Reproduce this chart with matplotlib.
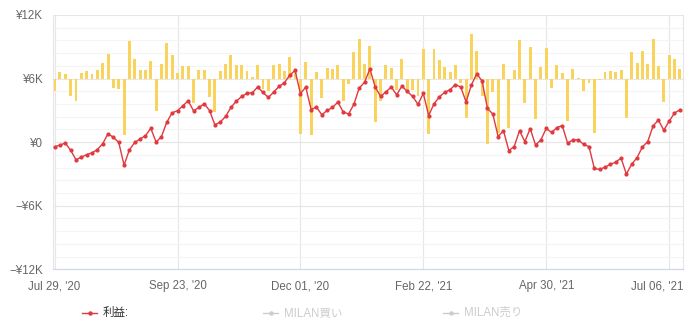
import matplotlib
matplotlib.use('Agg')
import matplotlib.pyplot as plt
from matplotlib.lines import Line2D
from matplotlib.ticker import FuncFormatter, MultipleLocator
from matplotlib.transforms import ScaledTranslation
import numpy as np

plt.rcParams['font.family'] = ['Liberation Sans', 'Noto Sans CJK JP', 'DejaVu Sans']

# cumulative profit (thousand yen), one value per trade point
profit = [
    -0.44, -0.28, -0.08, -0.77, -1.66, -1.42, -1.18, -1.01, -0.70, -0.15,
    0.80, 0.45, -0.02, -2.17, -0.72, -0.03, 0.30, 0.61, 1.30, 0.00,
    0.53, 1.89, 2.77, 2.97, 3.43, 3.90, 2.95, 3.27, 3.63, 2.98,
    1.62, 1.90, 2.42, 3.28, 3.86, 4.31, 4.60, 4.66, 5.20, 4.69,
    4.22, 4.72, 5.26, 5.60, 6.32, 6.77, 4.57, 5.20, 3.08, 3.31,
    2.58, 2.99, 3.27, 3.78, 2.86, 2.65, 3.56, 5.10, 5.65, 6.91,
    5.20, 4.31, 4.75, 5.20, 4.47, 5.29, 4.78, 4.31, 3.57, 4.60,
    2.51, 3.62, 4.27, 4.70, 4.95, 5.43, 5.20, 3.80, 5.40, 6.46,
    5.76, 3.18, 2.66, 0.53, 1.08, -0.79, -0.42, 1.08, 0.05, 1.28,
    -0.28, 0.22, 1.29, 0.91, 1.38, 1.56, -0.09, 0.22, 0.22, -0.22,
    -0.42, -2.48, -2.58, -2.36, -2.10, -1.88, -1.51, -3.01, -2.07, -1.46,
    -0.45, 0.06, 1.54, 2.07, 1.13, 1.98, 2.74, 3.05,
]

# per-point change bars, drawn around the 6K line
change = [
    -1.17, 0.62, 0.47, -1.64, -2.12, 0.57, 0.72, 0.41, 0.81, 1.45,
    2.36, -0.85, -1.01, -5.36, 3.55, 1.89, 0.81, 0.81, 1.66, -3.06,
    1.35, 3.40, 2.20, 0.57, 1.22, 1.22, -2.33, 0.81, 0.81, -1.70,
    -3.18, 0.72, 1.40, 2.20, 1.30, 1.30, 0.75, 0.17, 1.32, -0.95,
    -1.17, 1.32, 1.40, 0.75, 2.05, 0.90, -5.20, 1.60, -5.28, 0.60,
    -1.80, 0.98, 0.90, 1.26, -2.15, -0.50, 2.46, 3.78, 1.42, 3.08,
    -4.13, -2.10, 1.26, 1.04, -1.10, 1.89, -1.10, -1.12, -1.60, 2.77,
    -5.20, 2.77, 1.78, 1.13, 0.66, 1.27, -0.38, -3.69, 4.19, 2.61,
    -1.64, -6.20, -1.26, -5.10, 1.35, -4.63, 0.85, 3.68, -2.27, 3.02,
    -3.78, 1.13, 2.84, -0.85, 1.26, 0.50, -4.00, 0.88, 0.09, -1.17,
    -0.44, -5.17, -0.10, 0.62, 0.72, 0.66, 0.81, -3.69, 2.46, 1.51,
    2.61, 1.35, 3.78, 1.19, -2.21, 2.20, 1.89, 0.88,
]

tick_pos = [0, 23, 46, 69, 92, 115]
tick_labels = ["Jul 29, '20", "Sep 23, '20", "Dec 01, '20", "Feb 22, '21", "Apr 30, '21", "Jul 06, '21"]

BAR_BASE = 6
x = np.arange(len(profit))

fig = plt.figure(figsize=(6.91, 3.33), dpi=100)
ax = fig.add_axes([0.0767, 0.1913, 0.911, 0.7637])

ax.bar(x, change, bottom=BAR_BASE, width=0.55, color='#f9d35c', zorder=2)
ax.plot(x, profit, color='#e0393e', lw=1, marker='o', markersize=2.0, zorder=3)

ax.set_xlim(-0.3, 117.5)
ax.set_ylim(-12, 12)
ax.yaxis.set_major_locator(MultipleLocator(6))
ax.yaxis.set_minor_locator(MultipleLocator(1.2))


def yen(v, pos):
    if abs(v) < 1e-9:
        return '¥0'
    s = '\u2212' if v < 0 else ''
    return f'{s}¥{abs(v):.0f}K'


ax.yaxis.set_major_formatter(FuncFormatter(yen))
ax.set_xticks(tick_pos)
ax.set_xticklabels(tick_labels)

ax.set_axisbelow(True)
ax.grid(True, which='major', axis='both', color='#e6e6e6', lw=0.8)
ax.grid(True, which='minor', axis='y', color='#f4f4f4', lw=0.8)

ax.tick_params(axis='both', which='both', length=0, labelsize=8.3, colors='#666666')
ax.tick_params(axis='y', pad=7)
ax.tick_params(axis='x', pad=8)

# last date label is pushed left so it stays inside the chart
last = ax.get_xticklabels()[-1]
last.set_transform(last.get_transform() + ScaledTranslation(-0.12, 0, fig.dpi_scale_trans))

ax.spines['top'].set_visible(False)
ax.spines['left'].set_color('#e6e6e6')
ax.spines['right'].set_color('#e6e6e6')
ax.spines['bottom'].set_color('#ccd6eb')
for sp in ax.spines.values():
    sp.set_linewidth(0.8)

# legend row
legend_items = [('利益:', '#e0393e', '#333333', 82), ('MILAN買い', '#cccccc', '#cccccc', 263),
                ('MILAN売り', '#cccccc', '#cccccc', 443)]
ly = 1 - 313 / 333
for label, icol, tcol, px in legend_items:
    x0 = px / 691
    x1 = (px + 15) / 691
    fig.add_artist(Line2D([x0, x1], [ly, ly], color=icol, lw=1, transform=fig.transFigure))
    fig.add_artist(Line2D([(x0 + x1) / 2], [ly], color=icol, marker='o', markersize=2.2,
                          transform=fig.transFigure))
    fig.text((px + 21) / 691, ly, label, color=tcol, fontsize=8.3, va='center', ha='left')

fig.savefig('out.png', dpi=100)
